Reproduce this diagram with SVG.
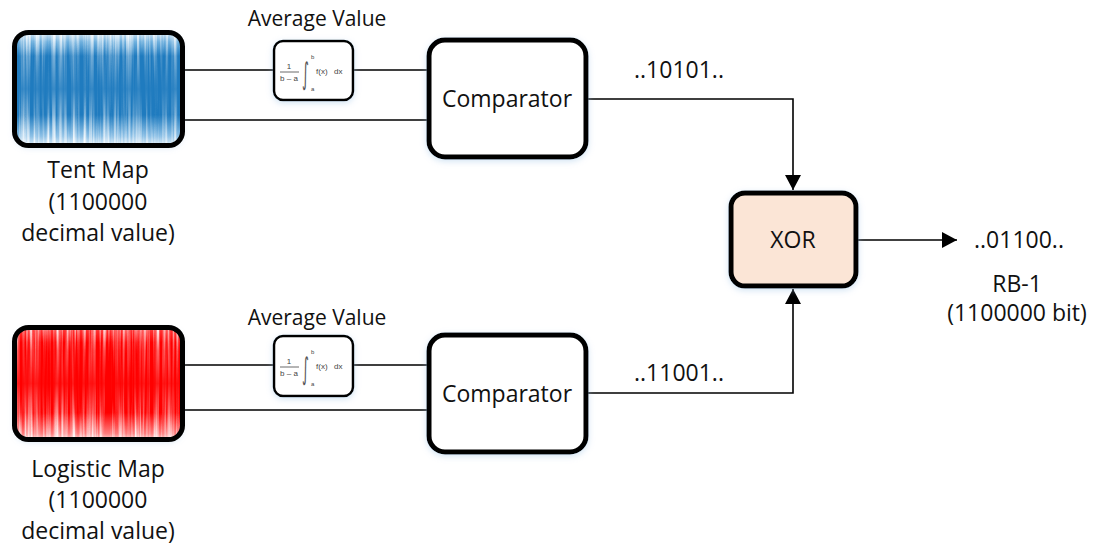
<svg xmlns="http://www.w3.org/2000/svg" width="1093" height="547" viewBox="0 0 1093 547">
<style>
text{font-family:"Open Sans","Liberation Sans",sans-serif;fill:#111;}
.lbl{font-size:23px;text-anchor:middle;}
.box{fill:#fff;stroke:#000;stroke-width:5;}
.ibox{fill:#fff;stroke:#000;stroke-width:2.5;}
.wire{fill:none;stroke:#000;stroke-width:1.6;}
.m{font-family:"Liberation Sans",sans-serif;fill:#444;}
.int{font-family:"DejaVu Sans",sans-serif;fill:#555;font-size:24px;}
</style>
<defs>
<filter id="sh" x="-20%" y="-20%" width="140%" height="140%">
<feDropShadow dx="0" dy="2" stdDeviation="3" flood-color="#9dc3e6" flood-opacity="0.45"/>
</filter>
<marker id="ar" markerUnits="userSpaceOnUse" markerWidth="18" markerHeight="18" refX="15" refY="8" orient="auto">
<path d="M0,0 L15,8 L0,16 Z" fill="#000"/>
</marker>
<linearGradient id="gb" x1="0" y1="0" x2="0" y2="1">
<stop offset="0" stop-color="#eef3f8"/>
<stop offset="0.1" stop-color="#6fb0de"/>
<stop offset="0.22" stop-color="#1f7bbf"/>
<stop offset="0.72" stop-color="#1f7bbf"/>
<stop offset="0.9" stop-color="#8cc0e6"/>
<stop offset="1" stop-color="#f4f8fb"/>
</linearGradient>
<linearGradient id="gr" x1="0" y1="0" x2="0" y2="1">
<stop offset="0" stop-color="#c9c9cf"/>
<stop offset="0.05" stop-color="#ff3030"/>
<stop offset="0.15" stop-color="#ff0000"/>
<stop offset="0.75" stop-color="#ff0000"/>
<stop offset="0.93" stop-color="#ff8080"/>
<stop offset="1" stop-color="#fff4f4"/>
</linearGradient>
<linearGradient id="edge" x1="0" y1="0" x2="0" y2="1">
<stop offset="0" stop-color="#fff" stop-opacity="1"/>
<stop offset="0.22" stop-color="#fff" stop-opacity="0.4"/>
<stop offset="0.5" stop-color="#fff" stop-opacity="0.12"/>
<stop offset="0.7" stop-color="#fff" stop-opacity="0.45"/>
<stop offset="1" stop-color="#fff" stop-opacity="1"/>
</linearGradient>
<mask id="em" maskContentUnits="objectBoundingBox">
<rect width="1" height="1" fill="url(#edge)"/>
</mask>
<filter id="streak" x="0" y="0" width="1" height="1">
<feTurbulence type="fractalNoise" baseFrequency="0.3 0.006" numOctaves="3" seed="7"/>
<feColorMatrix type="matrix" values="0 0 0 0 1  0 0 0 0 1  0 0 0 0 1  3 0 0 0 -1.2"/>
</filter>
<filter id="streak2" x="0" y="0" width="1" height="1">
<feTurbulence type="fractalNoise" baseFrequency="0.3 0.006" numOctaves="3" seed="19"/>
<feColorMatrix type="matrix" values="0 0 0 0 1  0 0 0 0 1  0 0 0 0 1  3 0 0 0 -1.2"/>
</filter>
<clipPath id="c1"><rect x="14.5" y="32.5" width="168" height="113" rx="14"/></clipPath>
<clipPath id="c2"><rect x="14.5" y="327.5" width="168" height="112" rx="14"/></clipPath>
</defs>

<g id="connectors">
<path class="wire" d="M183,70 H274 M353,70 H429 M183,120 H429"/>
<path class="wire" d="M183,365 H274 M353,365 H429 M183,410 H429"/>
<path class="wire" d="M586,99 H793 V190" marker-end="url(#ar)"/>
<path class="wire" d="M586,393 H793 V289" marker-end="url(#ar)"/>
<path class="wire" d="M856,240 H957" marker-end="url(#ar)"/>
</g>

<g id="tent-map">
<g filter="url(#sh)"><rect x="14.5" y="32.5" width="168" height="113" rx="14" fill="#fff"/></g>
<g clip-path="url(#c1)">
<rect x="12" y="30" width="173" height="118" fill="url(#gb)"/>
<g mask="url(#em)"><rect x="12" y="30" width="173" height="118" filter="url(#streak)"/></g>
</g>
<rect x="14.5" y="32.5" width="168" height="113" rx="14" fill="none" stroke="#000" stroke-width="5"/>
<text class="lbl" x="98" y="178">Tent Map</text>
<text class="lbl" x="98" y="210">(1100000</text>
<text class="lbl" x="98" y="241">decimal value)</text>
</g>

<g id="logistic-map">
<g filter="url(#sh)"><rect x="14.5" y="327.5" width="168" height="112" rx="14" fill="#fff"/></g>
<g clip-path="url(#c2)">
<rect x="12" y="325" width="173" height="117" fill="url(#gr)"/>
<g mask="url(#em)"><rect x="12" y="325" width="173" height="117" filter="url(#streak2)"/></g>
</g>
<rect x="14.5" y="327.5" width="168" height="112" rx="14" fill="none" stroke="#000" stroke-width="5"/>
<text class="lbl" x="98" y="477">Logistic Map</text>
<text class="lbl" x="98" y="508">(1100000</text>
<text class="lbl" x="98" y="539">decimal value)</text>
</g>

<g id="average-top">
<text class="lbl" x="317" y="26" style="font-size:21px">Average Value</text>
<rect class="ibox" x="274" y="41" width="79" height="59" rx="9" filter="url(#sh)"/>
<text class="m" x="289" y="69" font-size="8" text-anchor="middle">1</text>
<line x1="280" y1="72" x2="299" y2="72" stroke="#444" stroke-width="0.8"/>
<text class="m" x="289" y="81" font-size="8" text-anchor="middle">b – a</text>
<text class="int" transform="translate(302,84) scale(0.55,1.25)">∫</text>
<text class="m" x="311" y="59" font-size="6">b</text>
<text class="m" x="311" y="91" font-size="6">a</text>
<text class="m" x="316" y="74" font-size="8">f(x)</text>
<text class="m" x="334" y="74" font-size="8">dx</text>
</g>

<g id="average-bottom">
<text class="lbl" x="317" y="325" style="font-size:21px">Average Value</text>
<rect class="ibox" x="274" y="336" width="79" height="60" rx="9" filter="url(#sh)"/>
<text class="m" x="289" y="364" font-size="8" text-anchor="middle">1</text>
<line x1="280" y1="367" x2="299" y2="367" stroke="#444" stroke-width="0.8"/>
<text class="m" x="289" y="376" font-size="8" text-anchor="middle">b – a</text>
<text class="int" transform="translate(302,379) scale(0.55,1.25)">∫</text>
<text class="m" x="311" y="354" font-size="6">b</text>
<text class="m" x="311" y="386" font-size="6">a</text>
<text class="m" x="316" y="369" font-size="8">f(x)</text>
<text class="m" x="334" y="369" font-size="8">dx</text>
</g>

<g id="comparator-top">
<rect class="box" x="429" y="40" width="157" height="117" rx="16" filter="url(#sh)"/>
<text class="lbl" x="507" y="107">Comparator</text>
</g>

<g id="comparator-bottom">
<rect class="box" x="429" y="335" width="157" height="117" rx="16" filter="url(#sh)"/>
<text class="lbl" x="507" y="402">Comparator</text>
</g>

<g id="xor">
<rect x="731" y="193" width="125" height="93" rx="14" fill="#fbe5d6" stroke="#000" stroke-width="5" filter="url(#sh)"/>
<text class="lbl" x="793" y="248">XOR</text>
</g>

<g id="labels">
<text class="lbl" x="679" y="78">..10101..</text>
<text class="lbl" x="679" y="381">..11001..</text>
<text class="lbl" x="1019" y="248">..01100..</text>
<text class="lbl" x="1017" y="292">RB-1</text>
<text class="lbl" x="1017" y="321">(1100000 bit)</text>
</g>
</svg>
